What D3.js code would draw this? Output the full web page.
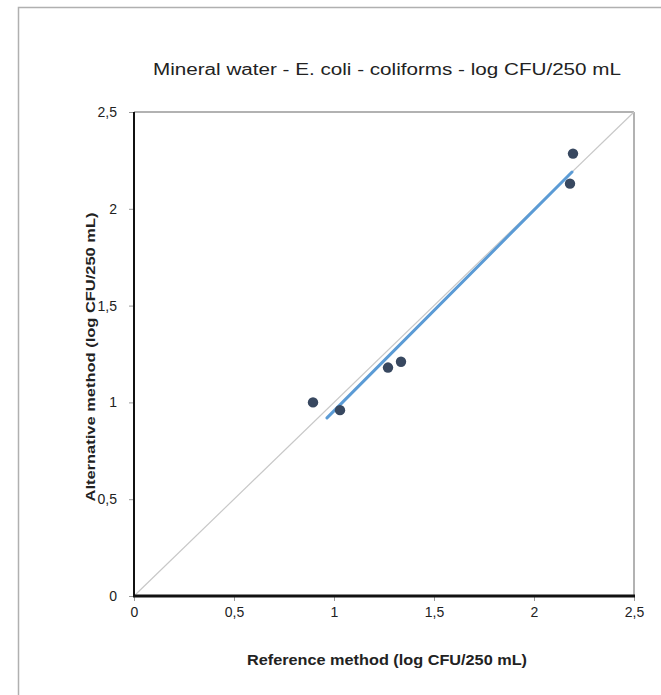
<!DOCTYPE html>
<html>
<head>
<meta charset="utf-8">
<script src="https://cdn.jsdelivr.net/npm/d3@7"></script>
<style>
  body { margin: 0; background: #fff; }
  svg { display: block; font-family: "Liberation Sans", Arial, sans-serif; }
</style>
</head>
<body>
<svg class="chart"></svg>
<script>
var svgWidth = 661,
    svgHeight = 695,
    margin = {top: 112, right: 27, bottom: 99, left: 134},
    width = svgWidth - margin.left - margin.right,
    height = svgHeight - margin.top - margin.bottom;

// data
var refValues = [0.895, 1.03, 1.27, 1.335, 2.18, 2.195];   // reference method
var altValues = [1.00, 0.96, 1.18, 1.21, 2.13, 2.285];     // alternative method
var fitLine = [[0.965, 0.92], [2.19, 2.19]];               // fitted regression line
var identityLine = [[0, 0], [2.5, 2.5]];
var tickValues = [0, 0.5, 1, 1.5, 2, 2.5];
var tickLabels = ['0', '0,5', '1', '1,5', '2', '2,5'];

var points = refValues.map(function(d, i) { return {x: d, y: altValues[i]}; });

var xScale = d3.scaleLinear().domain([0, 2.5]).range([0, width]),
    yScale = d3.scaleLinear().domain([0, 2.5]).range([height, 0]);

var fmt = function(d) { return tickLabels[tickValues.indexOf(d)]; };

var root = d3.select('.chart')
    .attr('width', svgWidth)
    .attr('height', svgHeight);

// outer frame
root.append('rect')
    .attr('x', 18.5).attr('y', 7.5)
    .attr('width', 700).attr('height', 700)
    .attr('fill', 'none')
    .attr('stroke', '#b0b0b0')
    .attr('stroke-width', 1.5);

// the source text is stretched sideways, so widths are fixed with textLength
root.append('text')
    .attr('x', 387).attr('y', 75)
    .attr('text-anchor', 'middle')
    .attr('font-size', 16)
    .attr('textLength', 468)
    .attr('lengthAdjust', 'spacingAndGlyphs')
    .attr('fill', '#222')
    .text('Mineral water - E. coli - coliforms - log CFU/250 mL');

var svg = root.append('g')
    .attr('transform', 'translate(' + margin.left + ',' + margin.top + ')');

// plot border: top/right grey, left/bottom black
svg.append('line').attr('x1', 0).attr('x2', width).attr('y1', 0).attr('y2', 0)
    .attr('stroke', '#999').attr('stroke-width', 1.5);
svg.append('line').attr('x1', width).attr('x2', width).attr('y1', 0).attr('y2', height)
    .attr('stroke', '#999').attr('stroke-width', 1.5);

var line = d3.line()
    .x(function(d) { return xScale(d[0]); })
    .y(function(d) { return yScale(d[1]); });

// identity line
svg.append('path')
    .datum(identityLine)
    .attr('d', line)
    .attr('fill', 'none')
    .attr('stroke', '#c8c8c8')
    .attr('stroke-width', 1.2);

svg.append('path')
    .datum(fitLine)
    .attr('d', line)
    .attr('fill', 'none')
    .attr('stroke', '#5b9bd5')
    .attr('stroke-width', 3)
    .attr('stroke-linecap', 'round');

svg.selectAll('.dot')
    .data(points)
    .enter().append('circle')
        .attr('class', 'dot')
        .attr('cx', function(d) { return xScale(d.x); })
        .attr('cy', function(d) { return yScale(d.y); })
        .attr('r', 5.2)
        .attr('fill', '#384860');

// axes
var xAxis = d3.axisBottom(xScale).tickValues(tickValues).tickFormat(fmt).tickSize(5).tickPadding(6),
    yAxis = d3.axisLeft(yScale).tickValues(tickValues).tickFormat(fmt).tickSize(5).tickPadding(12);

var gx = svg.append('g')
    .attr('class', 'xaxis')
    .attr('transform', 'translate(0,' + height + ')')
    .call(xAxis);

var gy = svg.append('g')
    .attr('class', 'yaxis')
    .call(yAxis);

[gx, gy].forEach(function(g) {
    g.select('.domain').remove();
    g.selectAll('.tick line').attr('stroke', '#999');
    g.selectAll('.tick text').attr('font-size', 14).attr('fill', '#222')
        .attr('font-family', '"Liberation Sans", Arial, sans-serif');
});

svg.append('line').attr('x1', 0).attr('x2', 0).attr('y1', 0).attr('y2', height)
    .attr('stroke', '#111').attr('stroke-width', 2);
svg.append('line').attr('x1', -1).attr('x2', width + 1).attr('y1', height).attr('y2', height)
    .attr('stroke', '#111').attr('stroke-width', 3);

// axis titles
root.append('text')
    .attr('x', 387).attr('y', 665)
    .attr('text-anchor', 'middle')
    .attr('font-size', 14)
    .attr('font-weight', 'bold')
    .attr('textLength', 280)
    .attr('lengthAdjust', 'spacingAndGlyphs')
    .attr('fill', '#222')
    .text('Reference method (log CFU/250 mL)');

root.append('text')
    .attr('transform', 'translate(95,357) rotate(-90)')
    .attr('text-anchor', 'middle')
    .attr('font-size', 12.5)
    .attr('font-weight', 'bold')
    .attr('textLength', 289)
    .attr('lengthAdjust', 'spacingAndGlyphs')
    .attr('fill', '#222')
    .text('Alternative method (log CFU/250 mL)');
</script>
</body>
</html>
